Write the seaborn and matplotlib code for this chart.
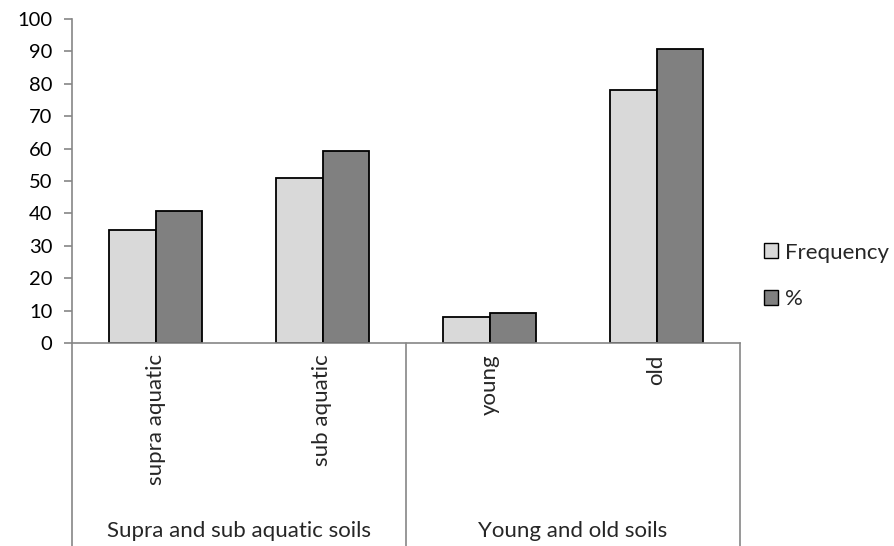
import matplotlib
matplotlib.use("Agg")
import matplotlib.pyplot as plt
from matplotlib.patches import Patch
from matplotlib.lines import Line2D
import seaborn as sns
import pandas as pd

# Soil categories and their grouping
categories = ["supra aquatic", "sub aquatic", "young", "old"]
groups = ["Supra and sub aquatic soils", "Young and old soils"]

# Series values
frequency = [35, 51, 8, 78]
percent = [40.7, 59.3, 9.3, 90.7]
series = ["Frequency", "%"]
yticks = list(range(0, 101, 10))

df = pd.DataFrame({
    "category": categories * 2,
    "series": [series[0]] * len(categories) + [series[1]] * len(categories),
    "value": frequency + percent,
})

sns.set_theme(style="white")
plt.rcParams["font.family"] = ["Lato", "DejaVu Sans"]

label_size = 16
tick_size = 14.5

fig = plt.figure(figsize=(8.94, 5.46), dpi=100)
ax = fig.add_axes([72 / 894, 1 - 343 / 546, (740 - 72) / 894, (343 - 19) / 546])

palette = {"Frequency": "#D9D9D9", "%": "#808080"}
sns.barplot(data=df, x="category", y="value", hue="series", order=categories,
            hue_order=series, palette=palette, width=0.56, edgecolor="black",
            linewidth=1.3, ax=ax, legend=False, saturation=1)

ax.set_ylim(0, 100)
ax.set_xlim(-0.5, len(categories) - 0.5)
ax.set_yticks(yticks)
ax.set_yticklabels([str(t) for t in yticks], fontsize=tick_size, color="black")
ax.set_xticks([])
ax.set_xlabel("")
ax.set_ylabel("")
axis_grey = "#868686"
for side in ["top", "right"]:
    ax.spines[side].set_visible(False)
for side in ["left", "bottom"]:
    ax.spines[side].set_color(axis_grey)
    ax.spines[side].set_linewidth(1.2)
ax.tick_params(axis="y", which="major", direction="out", length=6, width=1.2,
               color=axis_grey, pad=8, left=True)

# Two-level category axis below the plot
trans = ax.get_xaxis_transform()
y_bottom = -(546 - 343) / (343 - 19)
for i, cat in enumerate(categories):
    ax.text(i, -0.035, cat, rotation=90, ha="center", va="top",
            fontsize=label_size, transform=trans, clip_on=False)

edges = [-0.5, 1.5, 3.5]
for x in edges:
    ax.add_line(Line2D([x, x], [0, y_bottom], transform=trans, color=axis_grey,
                       linewidth=1.2, clip_on=False))
for j, g in enumerate(groups):
    xc = (edges[j] + edges[j + 1]) / 2
    ax.text(xc, -0.58, g, ha="center", va="center", fontsize=label_size,
            transform=trans, clip_on=False)

handles = [Patch(facecolor=palette[s], edgecolor="black", linewidth=1.0, label=s)
           for s in series]
fig.legend(handles=handles, loc="center left", bbox_to_anchor=(764 / 894, 1 - 276 / 546),
           frameon=False, fontsize=label_size, handlelength=0.65, handleheight=0.65,
           handletextpad=0.3, labelspacing=1.2, borderaxespad=0, borderpad=0)

fig.savefig("out.png", dpi=100, facecolor="white")
